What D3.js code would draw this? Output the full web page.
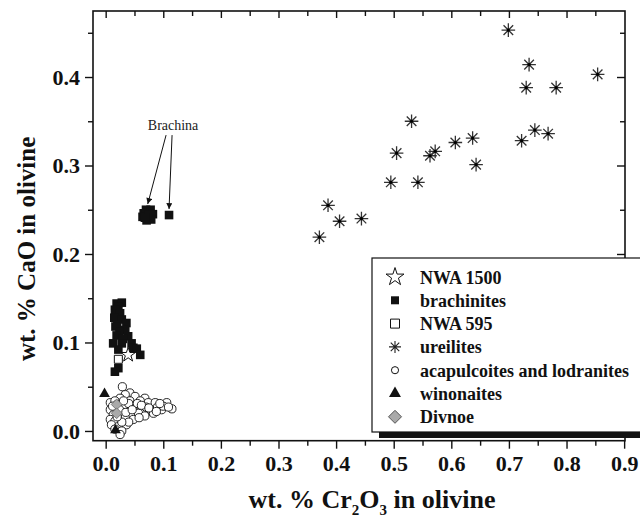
<!DOCTYPE html>
<html>
<head>
<meta charset="utf-8">
<script src="https://cdn.jsdelivr.net/npm/d3@7"></script>
<style>
  body { margin: 0; background: #fff; }
  svg { display: block; }
  text { font-family: "Liberation Serif", "Times New Roman", Times, serif; }
</style>
</head>
<body>
<svg id="chart" width="640" height="518"></svg>
<script>
// ---- data: [wt.% Cr2O3, wt.% CaO] in olivine ----
const xMajor = [0.0, 0.1, 0.2, 0.3, 0.4, 0.5, 0.6, 0.7, 0.8, 0.9];
const xMinor = [0.05, 0.15, 0.25, 0.35, 0.45, 0.55, 0.65, 0.75, 0.85];
const yMajor = [0.0, 0.1, 0.2, 0.3, 0.4];
const yMinor = [0.05, 0.15, 0.25, 0.35, 0.45];

const nwa1500 = [[0.039, 0.086]];
const nwa595 = [[0.022, 0.081]];

const brachinites = [
  [0.019, 0.144], [0.028, 0.145], [0.022, 0.140], [0.016, 0.137], [0.025, 0.133],
  [0.015, 0.128], [0.028, 0.126], [0.036, 0.122], [0.020, 0.120], [0.017, 0.118],
  [0.034, 0.114], [0.024, 0.112], [0.019, 0.108], [0.039, 0.107], [0.030, 0.104],
  [0.013, 0.099], [0.028, 0.099], [0.045, 0.099], [0.048, 0.094], [0.022, 0.092],
  [0.054, 0.093], [0.060, 0.086], [0.022, 0.071], [0.016, 0.067]
];

// Brachina
const brachina = [
  [0.066, 0.246], [0.070, 0.250], [0.078, 0.250], [0.082, 0.245], [0.079, 0.239],
  [0.071, 0.238], [0.064, 0.242], [0.075, 0.244], [0.068, 0.241], [0.110, 0.244]
];

const ureilites = [
  [0.371, 0.219], [0.386, 0.255], [0.406, 0.237], [0.444, 0.240], [0.495, 0.281],
  [0.542, 0.281], [0.505, 0.314], [0.531, 0.350], [0.563, 0.311], [0.572, 0.316],
  [0.607, 0.326], [0.637, 0.331], [0.643, 0.301], [0.699, 0.453], [0.722, 0.328],
  [0.730, 0.388], [0.735, 0.414], [0.745, 0.340], [0.768, 0.336], [0.782, 0.388],
  [0.854, 0.403]
];

const acapulcoites = [
  [0.029, 0.050], [0.042, 0.043], [0.034, 0.041], [0.051, 0.039], [0.068, 0.037],
  [0.025, 0.037], [0.008, 0.032], [0.016, 0.034], [0.042, 0.034], [0.060, 0.034],
  [0.074, 0.032], [0.086, 0.032], [0.106, 0.032], [0.115, 0.025], [0.097, 0.024],
  [0.080, 0.022], [0.063, 0.024], [0.051, 0.024], [0.039, 0.026], [0.031, 0.028],
  [0.008, 0.024], [0.013, 0.018], [0.028, 0.020], [0.045, 0.018], [0.057, 0.020],
  [0.068, 0.017], [0.083, 0.020], [0.008, 0.013], [0.016, 0.011], [0.034, 0.015],
  [0.048, 0.013], [0.010, 0.007], [0.022, 0.005], [0.036, 0.007], [0.016, 0.002],
  [0.028, 0.000], [0.020, 0.030], [0.050, 0.029], [0.090, 0.027], [0.070, 0.027],
  [0.100, 0.028], [0.025, -0.004], [0.012, 0.028], [0.024, 0.024], [0.035, 0.021],
  [0.040, 0.031], [0.055, 0.031], [0.062, 0.029], [0.075, 0.026], [0.088, 0.022],
  [0.058, 0.015], [0.040, 0.010], [0.028, 0.010], [0.020, 0.016], [0.046, 0.024],
  [0.031, 0.034], [0.094, 0.031], [0.109, 0.027]
];

const winonaites = [[-0.002, 0.042], [0.017, 0.001]];
const divnoe = [[0.019, 0.030], [0.019, 0.020]];

const legendLabels = ["NWA 1500", "brachinites", "NWA 595", "ureilites",
  "acapulcoites and lodranites", "winonaites", "Divnoe"];

// ---- layout ----
const svg = d3.select("#chart");
const plot = { left: 93, right: 625, top: 11, bottom: 440.7 };

const x = d3.scaleLinear().domain([-0.022, 0.9015]).range([plot.left, plot.right]);
const y = d3.scaleLinear().domain([-0.011, 0.4746]).range([plot.bottom, plot.top]);

const fmt = d3.format(".1f");
const tickFont = g => g.selectAll("text")
  .attr("font-size", 22).attr("font-weight", "bold").attr("fill", "#111")
  .style("font-family", '"Liberation Serif", "Times New Roman", serif');
const cleanAxis = g => { g.select(".domain").remove(); g.selectAll("line").attr("stroke", "#111").attr("stroke-width", 1.4); };

// bottom axis (outward ticks, labelled)
svg.append("g").attr("transform", `translate(0,${plot.bottom})`)
  .call(d3.axisBottom(x).tickValues(xMajor).tickFormat(fmt).tickSize(8).tickPadding(7))
  .call(cleanAxis).call(tickFont);
svg.append("g").attr("transform", `translate(0,${plot.bottom})`)
  .call(d3.axisBottom(x).tickValues(xMinor).tickFormat("").tickSize(5))
  .call(cleanAxis);
// top axis (inward ticks)
svg.append("g").attr("transform", `translate(0,${plot.top})`)
  .call(d3.axisTop(x).tickValues(xMajor.filter(v => v < 0.9)).tickFormat("").tickSize(-7))
  .call(cleanAxis);
svg.append("g").attr("transform", `translate(0,${plot.top})`)
  .call(d3.axisTop(x).tickValues(xMinor).tickFormat("").tickSize(-5))
  .call(cleanAxis);
// left axis (outward ticks, labelled)
svg.append("g").attr("transform", `translate(${plot.left},0)`)
  .call(d3.axisLeft(y).tickValues(yMajor).tickFormat(fmt).tickSize(8).tickPadding(5))
  .call(cleanAxis).call(tickFont);
svg.append("g").attr("transform", `translate(${plot.left},0)`)
  .call(d3.axisLeft(y).tickValues(yMinor).tickFormat("").tickSize(5))
  .call(cleanAxis);
// right axis (inward ticks)
svg.append("g").attr("transform", `translate(${plot.right},0)`)
  .call(d3.axisRight(y).tickValues(yMajor).tickFormat("").tickSize(-8))
  .call(cleanAxis);
svg.append("g").attr("transform", `translate(${plot.right},0)`)
  .call(d3.axisRight(y).tickValues(yMinor).tickFormat("").tickSize(-5))
  .call(cleanAxis);

// frame
svg.append("rect")
  .attr("x", plot.left).attr("y", plot.top)
  .attr("width", plot.right - plot.left).attr("height", plot.bottom - plot.top)
  .attr("fill", "none").attr("stroke", "#111").attr("stroke-width", 1.6);

// ---- marker shapes ----
const squarePath = s => `M${-s / 2},${-s / 2}h${s}v${s}h${-s}Z`;
const diamondPath = r => `M0,${-r}L${r},0L0,${r}L${-r},0Z`;
const asteriskPath = r => {
  const d = r * Math.SQRT1_2;
  return `M${-r},0H${r}M0,${-r}V${r}M${-d},${-d}L${d},${d}M${-d},${d}L${d},${-d}`;
};
const starPath = size => d3.symbol(d3.symbolStar, size)();
const trianglePath = size => d3.symbol(d3.symbolTriangle, size)();

const marks = svg.append("g");
const place = d => `translate(${x(d[0])},${y(d[1])})`;

function drawPoints(data, path, style) {
  const sel = marks.append("g").selectAll("path").data(data).join("path")
    .attr("transform", place).attr("d", path);
  Object.entries(style).forEach(([k, v]) => sel.attr(k, v));
  return sel;
}

// ureilites
drawPoints(ureilites, asteriskPath(6.8), { fill: "none", stroke: "#333", "stroke-width": 1.3 });
marks.append("g").selectAll("circle").data(ureilites).join("circle")
  .attr("cx", d => x(d[0])).attr("cy", d => y(d[1])).attr("r", 1.6).attr("fill", "#000");

// brachinites
drawPoints(brachinites, squarePath(8.6), { fill: "#111", stroke: "none" });
drawPoints(brachina, squarePath(8.6), { fill: "#111", stroke: "none" });
// NWA 595
drawPoints(nwa595, squarePath(8), { fill: "#fff", stroke: "#111", "stroke-width": 1 });
// NWA 1500
drawPoints(nwa1500, starPath(66), { fill: "#fff", stroke: "#111", "stroke-width": 1 });
// acapulcoites and lodranites
marks.append("g").selectAll("circle").data(acapulcoites).join("circle")
  .attr("cx", d => x(d[0])).attr("cy", d => y(d[1])).attr("r", 4.1)
  .attr("fill", "#fff").attr("stroke", "#111").attr("stroke-width", 0.9);
// winonaites
drawPoints(winonaites, trianglePath(50), { fill: "#111", stroke: "none" });
// Divnoe
drawPoints(divnoe, diamondPath(5.4), { fill: "#a9a9a9", stroke: "#666", "stroke-width": 0.8 });

// ---- Brachina annotation ----
const defs = svg.append("defs");
defs.append("marker").attr("id", "arrowhead")
  .attr("viewBox", "0 0 10 10").attr("refX", 10).attr("refY", 5)
  .attr("markerWidth", 9).attr("markerHeight", 6).attr("markerUnits", "userSpaceOnUse")
  .attr("orient", "auto")
  .append("path").attr("d", "M0,0L10,5L0,10Z").attr("fill", "#111");

const labelPos = { x: x(0.117), y: y(0.340) };
svg.append("text").attr("x", labelPos.x).attr("y", labelPos.y)
  .attr("text-anchor", "middle").attr("font-size", 14).attr("fill", "#222")
  .text("Brachina");

const clusterTip = [x(0.073), y(0.244) - 11];
const singleTip = [x(0.110), y(0.244) - 6];
svg.append("line")
  .attr("x1", labelPos.x - 7).attr("y1", labelPos.y + 5)
  .attr("x2", clusterTip[0]).attr("y2", clusterTip[1])
  .attr("stroke", "#111").attr("stroke-width", 1).attr("marker-end", "url(#arrowhead)");
svg.append("line")
  .attr("x1", labelPos.x - 1).attr("y1", labelPos.y + 5)
  .attr("x2", singleTip[0]).attr("y2", singleTip[1])
  .attr("stroke", "#111").attr("stroke-width", 1).attr("marker-end", "url(#arrowhead)");

// ---- axis titles ----
svg.append("text")
  .attr("transform", `translate(35,${(plot.top + plot.bottom) / 2 + 23}) rotate(-90)`)
  .attr("text-anchor", "middle").attr("font-size", 25).attr("font-weight", "bold")
  .attr("fill", "#111").text("wt. % CaO in olivine");

const xt = svg.append("text")
  .attr("x", 372).attr("y", 508)
  .attr("text-anchor", "middle").attr("font-size", 26).attr("font-weight", "bold")
  .attr("fill", "#111");
xt.append("tspan").text("wt. % Cr");
xt.append("tspan").attr("font-size", 15).attr("dy", 7).text("2");
xt.append("tspan").attr("dy", -7).text("O");
xt.append("tspan").attr("font-size", 15).attr("dy", 7).text("3");
xt.append("tspan").attr("dy", -7).text(" in olivine");

// ---- legend ----
const lg = svg.append("g");
const box = { x: 372, y: 258, w: 290, h: 174 };
lg.append("rect").attr("x", box.x + 7).attr("y", box.y + 6)
  .attr("width", box.w).attr("height", box.h).attr("fill", "#111");
lg.append("rect").attr("x", box.x).attr("y", box.y)
  .attr("width", box.w).attr("height", box.h)
  .attr("fill", "#fff").attr("stroke", "#111").attr("stroke-width", 1.2);

const legendSymbols = [
  { d: starPath(100), fill: "#fff", stroke: "#111", sw: 1 },
  { d: squarePath(8), fill: "#111", stroke: "none", sw: 0 },
  { d: squarePath(9), fill: "#fff", stroke: "#111", sw: 1 },
  { d: asteriskPath(6), fill: "none", stroke: "#222", sw: 1.1 },
  { d: d3.symbol(d3.symbolCircle, 40)(), fill: "#fff", stroke: "#111", sw: 1 },
  { d: trianglePath(62), fill: "#111", stroke: "none", sw: 0 },
  { d: diamondPath(6.5), fill: "#a9a9a9", stroke: "#555", sw: 1 }
];
const rowY = i => 277 + i * 23.3;
const rows = lg.selectAll("g.row").data(legendLabels).join("g")
  .attr("class", "row").attr("transform", (d, i) => `translate(0,${rowY(i)})`);
rows.append("path")
  .attr("transform", "translate(395,0)")
  .attr("d", (d, i) => legendSymbols[i].d)
  .attr("fill", (d, i) => legendSymbols[i].fill)
  .attr("stroke", (d, i) => legendSymbols[i].stroke)
  .attr("stroke-width", (d, i) => legendSymbols[i].sw);
rows.append("text").attr("x", 420).attr("y", 6.5)
  .attr("font-size", 18).attr("font-weight", "bold").attr("fill", "#111")
  .text(d => d);
</script>
</body>
</html>
